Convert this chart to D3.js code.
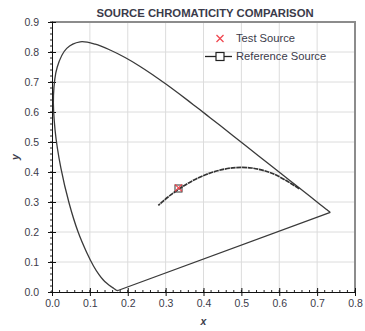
<!DOCTYPE html>
<html>
<head>
<meta charset="utf-8">
<script src="https://cdn.jsdelivr.net/npm/d3@7"></script>
<style>
  body { margin: 0; background: #fff; }
  svg text { font-family: "Liberation Sans", Arial, sans-serif; fill: #3b3b4a; }
</style>
</head>
<body>
<div id="chart"></div>
<script>
// spectral locus (CIE 1931), 380..700 nm
const locusX = [0.1741,0.1740,0.1738,0.1736,0.1733,0.1730,0.1726,0.1721,0.1714,0.1703,0.1689,0.1669,0.1644,0.1611,0.1566,0.1510,0.1440,0.1355,0.1241,0.1096,0.0913,0.0687,0.0454,0.0235,0.0082,0.0039,0.0139,0.0389,0.0743,0.1142,0.1547,0.1929,0.2296,0.2658,0.3016,0.3373,0.3731,0.4087,0.4441,0.4788,0.5125,0.5448,0.5752,0.6029,0.6270,0.6482,0.6658,0.6801,0.6915,0.7006,0.7079,0.7140,0.7190,0.7230,0.7260,0.7283,0.7300,0.7311,0.7320,0.7347];
const locusY = [0.0050,0.0050,0.0049,0.0049,0.0048,0.0048,0.0048,0.0048,0.0051,0.0058,0.0069,0.0086,0.0109,0.0138,0.0177,0.0227,0.0297,0.0399,0.0578,0.0868,0.1327,0.2007,0.2950,0.4127,0.5384,0.6548,0.7502,0.8120,0.8338,0.8262,0.8059,0.7816,0.7543,0.7243,0.6923,0.6589,0.6245,0.5896,0.5547,0.5202,0.4866,0.4544,0.4242,0.3965,0.3725,0.3514,0.3340,0.3197,0.3083,0.2993,0.2920,0.2859,0.2809,0.2770,0.2740,0.2717,0.2700,0.2689,0.2680,0.2653];
// blackbody curve, 1000K .. 10000K
const planckX = [0.6528,0.5857,0.5267,0.4770,0.4369,0.4053,0.3805,0.3608,0.3451,0.3325,0.3221,0.3135,0.3064,0.2952,0.2869,0.2807];
const planckY = [0.3444,0.3931,0.4133,0.4137,0.4041,0.3907,0.3768,0.3636,0.3516,0.3411,0.3318,0.3237,0.3166,0.3048,0.2956,0.2884];
const testX = [0.334], testY = [0.347];
const refX = [0.334], refY = [0.345];
const xTicks = [0, 0.1, 0.2, 0.3, 0.4, 0.5, 0.6, 0.7, 0.8];
const yTicks = [0, 0.1, 0.2, 0.3, 0.4, 0.5, 0.6, 0.7, 0.8, 0.9];
const legendLabels = ["Test Source", "Reference Source"];
const title = "SOURCE CHROMATICITY COMPARISON";

const W = 365, H = 331;
const m = {left: 52, right: 10, top: 22, bottom: 39};

const svg = d3.select("#chart").append("svg").attr("width", W).attr("height", H);
const x = d3.scaleLinear().domain([0, 0.8]).range([m.left, W - m.right]);
const y = d3.scaleLinear().domain([0, 0.9]).range([H - m.bottom, m.top]);
const fmt = d3.format(".1f");

// grid
svg.append("g").selectAll("line").data(xTicks.slice(1)).join("line")
    .attr("x1", d => x(d)).attr("x2", d => x(d))
    .attr("y1", y(0)).attr("y2", y(0.9))
    .attr("stroke", "#dcdcdc");
svg.append("g").selectAll("line").data(yTicks.slice(1)).join("line")
    .attr("x1", x(0)).attr("x2", x(0.8))
    .attr("y1", d => y(d)).attr("y2", d => y(d))
    .attr("stroke", "#dcdcdc");

// top + right frame
svg.append("path")
    .attr("d", `M${x(0)},${y(0.9)}H${x(0.8)}V${y(0)}`)
    .attr("fill", "none").attr("stroke", "#8c8c8c").attr("stroke-width", 2);

// minor ticks
svg.append("g").selectAll("line").data(d3.range(0, 0.801, 0.02)).join("line")
    .attr("x1", d => x(d)).attr("x2", d => x(d))
    .attr("y1", y(0) - 2).attr("y2", y(0) + 1)
    .attr("stroke", "#222");
svg.append("g").selectAll("line").data(d3.range(0, 0.901, 0.02)).join("line")
    .attr("x1", x(0) - 2).attr("x2", x(0) + 1)
    .attr("y1", d => y(d)).attr("y2", d => y(d))
    .attr("stroke", "#222");

// axes
const xAxis = svg.append("g").attr("transform", `translate(0,${y(0)})`)
    .call(d3.axisBottom(x).tickValues(xTicks).tickFormat(fmt).tickSizeInner(4).tickSizeOuter(0));
xAxis.selectAll(".tick line").attr("y1", -4).attr("stroke", "#111");
xAxis.select(".domain").attr("stroke", "#111");
xAxis.selectAll("text").attr("font-size", 10.5).attr("dy", "0.9em").attr("y", 6);

const yAxis = svg.append("g").attr("transform", `translate(${x(0)},0)`)
    .call(d3.axisLeft(y).tickValues(yTicks).tickFormat(fmt).tickSizeInner(4).tickSizeOuter(0));
yAxis.selectAll(".tick line").attr("x1", 4).attr("stroke", "#111");
yAxis.select(".domain").attr("stroke", "#111");
yAxis.selectAll("text").attr("font-size", 10.5).attr("x", -13);

// axis titles
svg.append("text").attr("x", x(0.4)).attr("y", 325)
    .attr("text-anchor", "middle").attr("font-size", 10.5)
    .attr("font-weight", "bold").attr("font-style", "italic").text("x");
svg.append("text").attr("transform", `translate(19,${y(0.45)}) rotate(-90)`)
    .attr("text-anchor", "middle").attr("font-size", 10.5)
    .attr("font-weight", "bold").attr("font-style", "italic").text("y");

// title
svg.append("text").attr("x", 205).attr("y", 17)
    .attr("text-anchor", "middle").attr("font-size", 11.3)
    .attr("font-weight", "bold").text(title);

const curve = d3.line().x(d => x(d[0])).y(d => y(d[1])).curve(d3.curveCatmullRom);
const locus = d3.zip(locusX, locusY);

// spectral locus (smooth) + straight purple line back to the start
svg.append("path")
    .datum(locus)
    .attr("d", curve)
    .attr("fill", "none").attr("stroke", "#3a3a3a").attr("stroke-width", 1.3);
svg.append("line")
    .attr("x1", x(locusX[locusX.length - 1])).attr("y1", y(locusY[locusY.length - 1]))
    .attr("x2", x(locusX[0])).attr("y2", y(locusY[0]))
    .attr("stroke", "#3a3a3a").attr("stroke-width", 1.3);

// reference curve
svg.append("path")
    .datum(d3.zip(planckX, planckY))
    .attr("d", curve)
    .attr("fill", "none").attr("stroke", "#333").attr("stroke-width", 1.7)
    .attr("stroke-dasharray", "5,0.7");

// markers
function cross(g, cx, cy, r) {
    g.append("path")
        .attr("d", `M${cx-r},${cy-r}L${cx+r},${cy+r}M${cx-r},${cy+r}L${cx+r},${cy-r}`)
        .attr("stroke", "#f0474f").attr("stroke-width", 1.3);
}
const marks = svg.append("g");
d3.zip(refX, refY).forEach(p => {
    marks.append("rect").attr("x", x(p[0]) - 3.5).attr("y", y(p[1]) - 3.5)
        .attr("width", 7).attr("height", 7)
        .attr("fill", "none").attr("stroke", "#333").attr("stroke-width", 1);
});
d3.zip(testX, testY).forEach(p => cross(marks, x(p[0]), y(p[1]), 3.5));

// legend
const lg = svg.append("g");
cross(lg, 220, 38.5, 3.5);
lg.append("line").attr("x1", 205).attr("x2", 232).attr("y1", 56.5).attr("y2", 56.5)
    .attr("stroke", "#222").attr("stroke-width", 1.3);
lg.append("rect").attr("x", 216).attr("y", 52.5).attr("width", 8).attr("height", 8)
    .attr("fill", "#fff").attr("stroke", "#222").attr("stroke-width", 1.2);
lg.selectAll("text.lbl").data(legendLabels).join("text").attr("class", "lbl")
    .attr("x", 236).attr("y", (d, i) => 38.5 + i * 18).attr("dy", "0.35em")
    .attr("font-size", 11.2).text(d => d);
</script>
</body>
</html>
